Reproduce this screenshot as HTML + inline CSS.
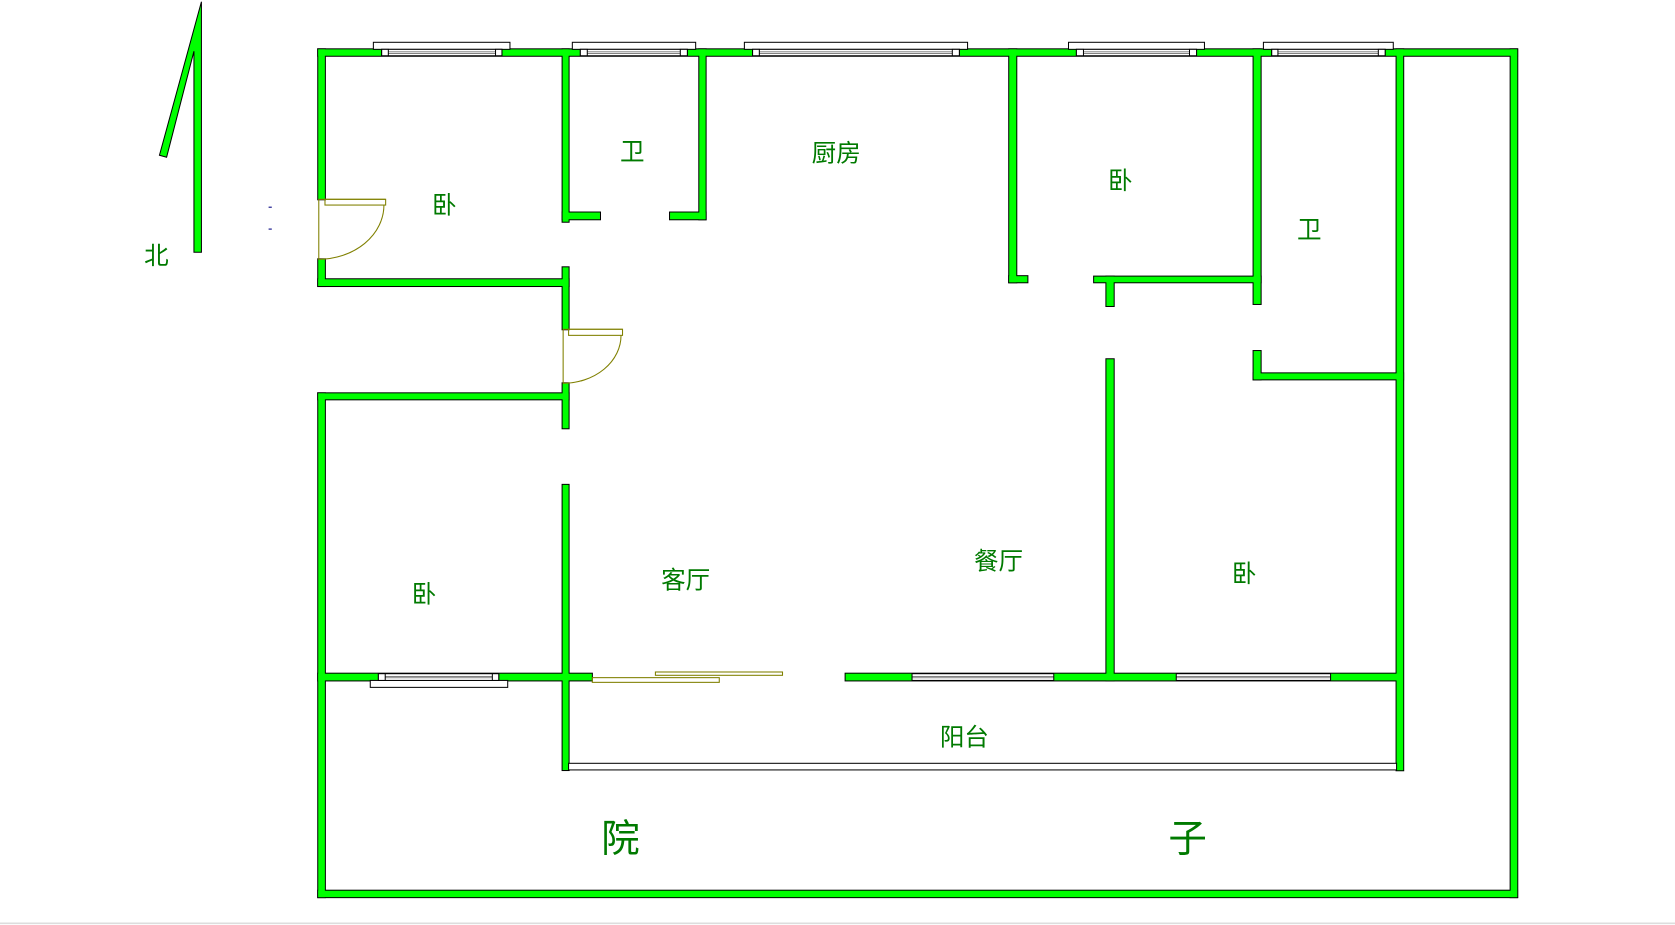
<!DOCTYPE html>
<html><head><meta charset="utf-8"><style>
html,body{margin:0;padding:0;background:#fff;}
svg{display:block;}
text{font-family:"Liberation Sans","Noto Sans CJK SC","WenQuanYi Zen Hei",sans-serif;fill:#007a00;text-anchor:middle;dominant-baseline:central;}
</style></head><body>
<svg width="1675" height="925" viewBox="0 0 1568.4 866.1" preserveAspectRatio="none" xmlns="http://www.w3.org/2000/svg">
<rect x="0" y="0" width="1568.4" height="866.1" fill="#fff"/>
<line x1="0" y1="864.5" x2="1568.4" y2="864.5" stroke="#ddd" stroke-width="1.5"/>
<defs>
<g id="walls">
<rect x="298" y="46.2" width="1122.5" height="6"/>
<rect x="298" y="46.2" width="6.2" height="140.4"/>
<rect x="298" y="242.8" width="6.2" height="25"/>
<rect x="298" y="368.3" width="6.2" height="471.7"/>
<rect x="298" y="834" width="1122.5" height="6"/>
<rect x="1414.5" y="46.2" width="6.2" height="793.8"/>
<rect x="1307.7" y="46.2" width="6.2" height="675"/>
<rect x="526.8" y="46.2" width="5.6" height="161.4"/>
<rect x="526.8" y="250.3" width="5.6" height="58"/>
<rect x="526.8" y="358.9" width="5.6" height="42.1"/>
<rect x="526.8" y="454" width="5.6" height="267"/>
<rect x="298" y="261.5" width="234.4" height="6.3"/>
<rect x="526.8" y="199" width="35" height="6.3"/>
<rect x="654.8" y="46.2" width="5.9" height="159.1"/>
<rect x="627.4" y="199" width="33.3" height="6.3"/>
<rect x="945" y="46.2" width="6.6" height="218.1"/>
<rect x="945" y="258.6" width="17" height="5.7"/>
<rect x="1024.5" y="259" width="155.9" height="5.3"/>
<rect x="1036" y="259" width="6.8" height="27.5"/>
<rect x="1173.8" y="46.2" width="6.6" height="238.4"/>
<rect x="1173.8" y="328.7" width="6.6" height="26.5"/>
<rect x="1173.8" y="349.6" width="140" height="5.6"/>
<rect x="1036" y="336.4" width="6.8" height="300.6"/>
<rect x="298" y="368.3" width="234.4" height="5.6"/>
<rect x="298" y="630.8" width="256.2" height="6.3"/>
<rect x="791.8" y="630.8" width="521.8" height="6.3"/>
</g>
</defs>
<use href="#walls" fill="#000" stroke="#000" stroke-width="1.9"/>
<use href="#walls" fill="#00ff00"/>

<rect x="532.4" y="714.7" width="775.3" height="6.2" fill="#fff" stroke="#000" stroke-width="0.95"/>

<g fill="#fff" stroke="#000" stroke-width="0.95">
<rect x="349.6" y="39.6" width="127.9" height="6.6"/>
<rect x="357.4" y="46.2" width="112.6" height="6"/>
<rect x="357.4" y="46.2" width="6.2" height="6"/><rect x="464" y="46.2" width="6" height="6"/>
<rect x="535.9" y="39.6" width="115.5" height="6.6"/>
<rect x="543.4" y="46.2" width="100.2" height="6"/>
<rect x="543.4" y="46.2" width="6.5" height="6"/><rect x="637" y="46.2" width="6.6" height="6"/>
<rect x="697" y="39.6" width="209" height="6.6"/>
<rect x="704.7" y="46.2" width="193.6" height="6"/>
<rect x="704.7" y="46.2" width="6.3" height="6"/><rect x="891.7" y="46.2" width="6.6" height="6"/>
<rect x="1000.5" y="39.6" width="127.3" height="6.6"/>
<rect x="1007.9" y="46.2" width="112.5" height="6"/>
<rect x="1007.9" y="46.2" width="6.6" height="6"/><rect x="1113.8" y="46.2" width="6.6" height="6"/>
<rect x="1183" y="39.6" width="121.6" height="6.6"/>
<rect x="1190.8" y="46.2" width="106.2" height="6"/>
<rect x="1190.8" y="46.2" width="5.8" height="6"/><rect x="1290.6" y="46.2" width="6.4" height="6"/>
</g>
<g stroke="#000" stroke-width="0.45">
<line x1="363.6" y1="48.6" x2="464" y2="48.6"/><line x1="363.6" y1="50" x2="464" y2="50"/>
<line x1="549.9" y1="48.6" x2="637" y2="48.6"/><line x1="549.9" y1="50" x2="637" y2="50"/>
<line x1="711" y1="48.6" x2="891.7" y2="48.6"/><line x1="711" y1="50" x2="891.7" y2="50"/>
<line x1="1014.5" y1="48.6" x2="1113.8" y2="48.6"/><line x1="1014.5" y1="50" x2="1113.8" y2="50"/>
<line x1="1196.6" y1="48.6" x2="1290.6" y2="48.6"/><line x1="1196.6" y1="50" x2="1290.6" y2="50"/>
</g>
<g fill="#fff" stroke="#000" stroke-width="0.95">
<rect x="346.7" y="637.1" width="128.7" height="6.5"/>
<rect x="354.3" y="630.8" width="112.7" height="6.3"/>
<rect x="354.3" y="630.8" width="6.4" height="6.3"/><rect x="461" y="630.8" width="6" height="6.3"/>
<rect x="854" y="630.8" width="132.7" height="6.3"/>
<rect x="1101.4" y="630.8" width="144.5" height="6.3"/>
</g>
<g stroke="#000" stroke-width="0.45">
<line x1="360.7" y1="633.2" x2="461" y2="633.2"/><line x1="360.7" y1="634.7" x2="461" y2="634.7"/>
<line x1="854" y1="633.2" x2="986.7" y2="633.2"/><line x1="854" y1="634.7" x2="986.7" y2="634.7"/>
<line x1="1101.4" y1="633.2" x2="1245.9" y2="633.2"/><line x1="1101.4" y1="634.7" x2="1245.9" y2="634.7"/>
</g>

<g fill="none" stroke="#808000" stroke-width="1">
<line x1="298.5" y1="186.6" x2="298.5" y2="242.8"/>
<line x1="298" y1="186.6" x2="361" y2="186.6"/>
<rect x="304.3" y="186.6" width="56.8" height="5.4"/>
<path d="M359.5,192 A61.5,50.8 0 0 1 298,242.8"/>
<line x1="527.3" y1="308.3" x2="527.3" y2="358.9"/>
<line x1="527" y1="308.3" x2="583" y2="308.3"/>
<rect x="532.4" y="308.3" width="50.5" height="5.7"/>
<path d="M581.5,314 A54.5,44.9 0 0 1 527,358.9"/>
<rect x="554.6" y="634.5" width="118.9" height="4.4"/>
<rect x="613.7" y="629.2" width="119" height="3.1"/>
</g>

<polygon points="188.6,1.6 188.6,236.2 181.6,236.2 181.6,48 156,147.2 149.3,145.4" fill="#00ff00" stroke="#000" stroke-width="0.95"/>
<line x1="251.5" y1="194" x2="254.5" y2="194" stroke="#000080" stroke-width="1"/>
<line x1="251.5" y1="214.5" x2="254.5" y2="214.5" stroke="#000080" stroke-width="1"/>

<g font-size="23">
<text x="146.5" y="240">北</text>
<text x="416" y="193">卧</text>
<text x="592" y="143">卫</text>
<text x="783" y="144">厨房</text>
<text x="1049" y="170">卧</text>
<text x="1226" y="216">卫</text>
<text x="397" y="557">卧</text>
<text x="642" y="544">客厅</text>
<text x="935" y="526">餐厅</text>
<text x="1165" y="538">卧</text>
<text x="903" y="691">阳台</text>
</g>
<g font-size="36">
<text x="581" y="786">院</text>
<text x="1112" y="786">子</text>
</g>
</svg>
</body></html>
